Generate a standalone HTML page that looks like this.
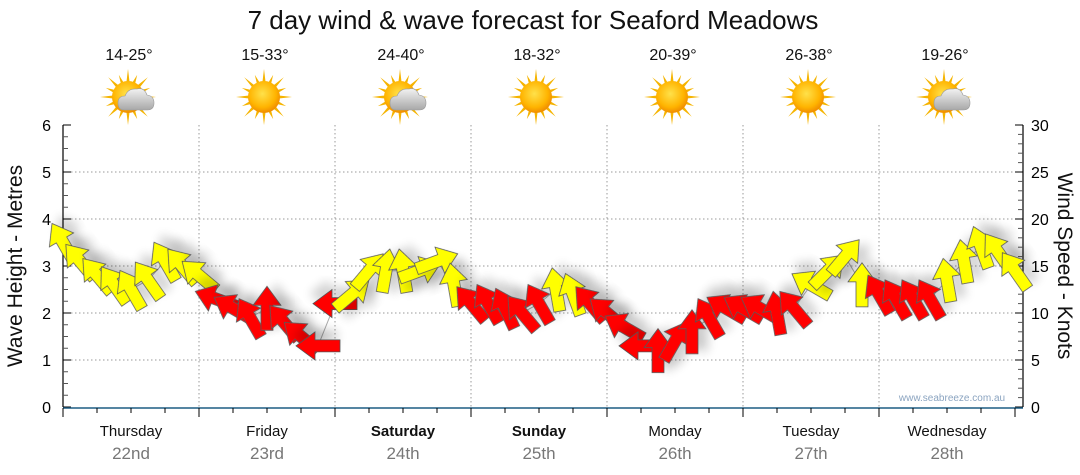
<!DOCTYPE html>
<html><head><meta charset="utf-8">
<style>
html,body{margin:0;padding:0;background:#fff;}
svg{display:block;font-family:"Liberation Sans",sans-serif;}
</style></head>
<body>
<svg id="chart" width="1080" height="475" viewBox="0 0 1080 475">
<defs>
<filter id="sh" x="-50%" y="-50%" width="200%" height="200%"><feGaussianBlur in="SourceAlpha" stdDeviation="5"/><feOffset dx="3" dy="10"/><feComponentTransfer><feFuncA type="linear" slope="0.18"/></feComponentTransfer><feMerge><feMergeNode/><feMergeNode in="SourceGraphic"/></feMerge></filter>
<radialGradient id="sun" cx="45%" cy="40%" r="60%"><stop offset="0" stop-color="#ffe14a"/><stop offset="0.7" stop-color="#ffb400"/><stop offset="1" stop-color="#f08c00"/></radialGradient>
<linearGradient id="cloud" x1="0" y1="0" x2="0" y2="1"><stop offset="0" stop-color="#f2f2f2"/><stop offset="1" stop-color="#a8a8a8"/></linearGradient>
</defs>
<text x="533" y="29" font-size="26" text-anchor="middle" fill="#111">7 day wind &amp; wave forecast for Seaford Meadows</text>
<g id="grid"></g>
<g id="axes"></g>
<g id="icons"></g>
<g id="arrows"></g>
<text x="952" y="401" font-size="10" text-anchor="middle" fill="#8ba4c0">www.seabreeze.com.au</text>
<text transform="translate(22,266) rotate(-90)" font-size="21" text-anchor="middle" fill="#111">Wave Height - Metres</text>
<text transform="translate(1058,266) rotate(90)" font-size="21" text-anchor="middle" fill="#111">Wind Speed - Knots</text>
</svg>
<script>
const days = ["Thursday","Friday","Saturday","Sunday","Monday","Tuesday","Wednesday"];
const dates = ["22nd","23rd","24th","25th","26th","27th","28th"];
const boldDays = [false,false,true,true,false,false,false];
const temps = ["14-25°","15-33°","24-40°","18-32°","20-39°","26-38°","19-26°"];
const cloudy = [true,false,true,false,false,false,true];
const leftTicks = [0,1,2,3,4,5,6];
const rightTicks = [0,5,10,15,20,25,30];
// wind every 3 hours
const windKnots = [17.5,15.5,14,13,12.5,13.5,15.5,15,14,11.5,10.5,9.5,10.5,9,7.5,6.5,11,12,14.5,14.5,14.5,14.5,15.5,13,11,11,10.5,10,11,12.5,12,11,10,8.5,6.5,6,7,8,9.5,10.5,10.5,10.5,10,10.5,13,14.5,16,13,12,11.5,11.5,11.5,13.5,15.5,17,16.5,14.5];
const windDir = [-120,-130,-130,-125,-120,-125,-120,-130,-140,-160,-150,-120,-90,-130,-140,180,180,-40,-50,-80,-100,-20,-20,-100,-130,-120,-115,-130,-120,-100,-110,-130,-140,-150,180,-90,-60,-90,-120,-150,-150,-150,-100,-130,-150,-45,-50,-90,-120,-120,-120,-120,-100,-100,-110,-125,-125];
const windColor = ["Y","Y","Y","Y","Y","Y","Y","Y","Y","R","R","R","R","R","R","R","R","Y","Y","Y","Y","Y","Y","Y","R","R","R","R","R","Y","Y","R","R","R","R","R","R","R","R","R","R","R","R","R","Y","Y","Y","Y","R","R","R","R","Y","Y","Y","Y","Y"];

const NS="http://www.w3.org/2000/svg";
const X0=63, X1=1023, DAYW=136, YT=125, YB=407;
const xHour = h => X0 + h*DAYW/24;
const yMetre = m => YB - (m/6)*(YB-YT);
const yKnot = k => YB - (k/30)*(YB-YT);
function mk(tag, attrs, parent){const e=document.createElementNS(NS,tag);for(const k in attrs)e.setAttribute(k,attrs[k]);parent.appendChild(e);return e;}
const grid=document.getElementById('grid'), axes=document.getElementById('axes'), icons=document.getElementById('icons'), arrows=document.getElementById('arrows');

leftTicks.forEach(m=>{ if(m>0&&m<6){const l=mk('line',{x1:X0,x2:X1,y1:yMetre(m),y2:yMetre(m),stroke:'#999','stroke-dasharray':'1.5,2.5','stroke-width':1},grid);

}});
for(let d=1;d<7;d++){const x=xHour(d*24);const l=mk('line',{x1:x,x2:x,y1:YT,y2:YB,stroke:'#999','stroke-dasharray':'1.5,2.5','stroke-width':1},grid);

}

mk('line',{x1:X0,x2:X0,y1:YT,y2:YB,stroke:'#000','stroke-width':1.2},axes);
for(let i=0;i<=24;i++){const y=YT+i*(YB-YT)/24;const major=i%4===0;mk('line',{x1:X0,x2:X0+(major?8:5),y1:y,y2:y,stroke:major?'#000':'#555','stroke-width':1},axes);}
leftTicks.forEach(m=>{const t=mk('text',{x:X0-12,y:yMetre(m)+6,'font-size':16,'text-anchor':'end',fill:'#000'},axes);t.textContent=m;

});
mk('line',{x1:X1,x2:X1,y1:YT,y2:YB,stroke:'#000','stroke-width':1.2},axes);
for(let i=0;i<=30;i++){const y=yKnot(i);const major=i%5===0;mk('line',{x1:X1,x2:X1-(major?8:5),y1:y,y2:y,stroke:major?'#000':'#555','stroke-width':1},axes);}
rightTicks.forEach(k=>{const t=mk('text',{x:X1+8,y:yKnot(k)+6,'font-size':16,'text-anchor':'start',fill:'#000'},axes);t.textContent=k;

});
mk('line',{x1:X0,x2:X1,y1:YB+1,y2:YB+1,stroke:'#1d5d84','stroke-width':1.5},axes);
for(let h=0;h<=168;h+=6){const x=xHour(h);const major=h%24===0;mk('line',{x1:x,x2:x,y1:YB+1,y2:YB+(major?10:6),stroke:'#000','stroke-width':1},axes);}
days.forEach((d,i)=>{const cx=xHour(i*24+12);
const t=mk('text',{x:cx,y:436,'font-size':15,'text-anchor':'middle',fill:'#111','font-weight':boldDays[i]?'bold':'normal'},axes);t.textContent=d;


const t2=mk('text',{x:cx,y:459,'font-size':17,'text-anchor':'middle',fill:'#777'},axes);t2.textContent=dates[i];


const tt=mk('text',{x:cx-2,y:60,'font-size':16,'text-anchor':'middle',fill:'#111'},icons);tt.textContent=temps[i];


const g=mk('g',{transform:`translate(${cx-3},97)`},icons);


for(let r=0;r<16;r++){const a=r*Math.PI/8;const L=r%2?24:28;mk('polygon',{points:`${Math.cos(a-0.12)*14},${Math.sin(a-0.12)*14} ${Math.cos(a)*L},${Math.sin(a)*L} ${Math.cos(a+0.12)*14},${Math.sin(a+0.12)*14}`,fill:'#f5b400'},g);}
mk('circle',{cx:0,cy:0,r:16,fill:'url(#sun)'},g);
if(cloudy[i]){mk('path',{d:'M-4,13 Q-10,13 -10,6 Q-10,-1 -3,-1 Q0,-9 9,-8 Q16,-10 19,-2 Q26,-1 26,6 Q26,13 19,13 Z',fill:'url(#cloud)',stroke:'#9a9a9a','stroke-width':0.6},g);}
});

let pd='';windKnots.forEach((k,i)=>{pd+=(i?'L':'M')+xHour(i*3)+','+yKnot(k);});
const pl=mk('path',{d:pd,fill:'none',stroke:'#aaa','stroke-width':1},arrows);



const shape='M-22,-6 L3,-6 L3,-14 L22,0 L3,14 L3,6 L-22,6 Z';
windKnots.forEach((k,i)=>{
 const x=xHour(i*3), y=yKnot(k);
 const p=mk('path',{d:shape,transform:`translate(${x},${y}) rotate(${windDir[i]})`,fill:windColor[i]==='R'?'#ff0000':'#ffff00',stroke:'#555','stroke-width':0.8,filter:'url(#sh)'},arrows);
 
 
});
</script>
</body></html>
